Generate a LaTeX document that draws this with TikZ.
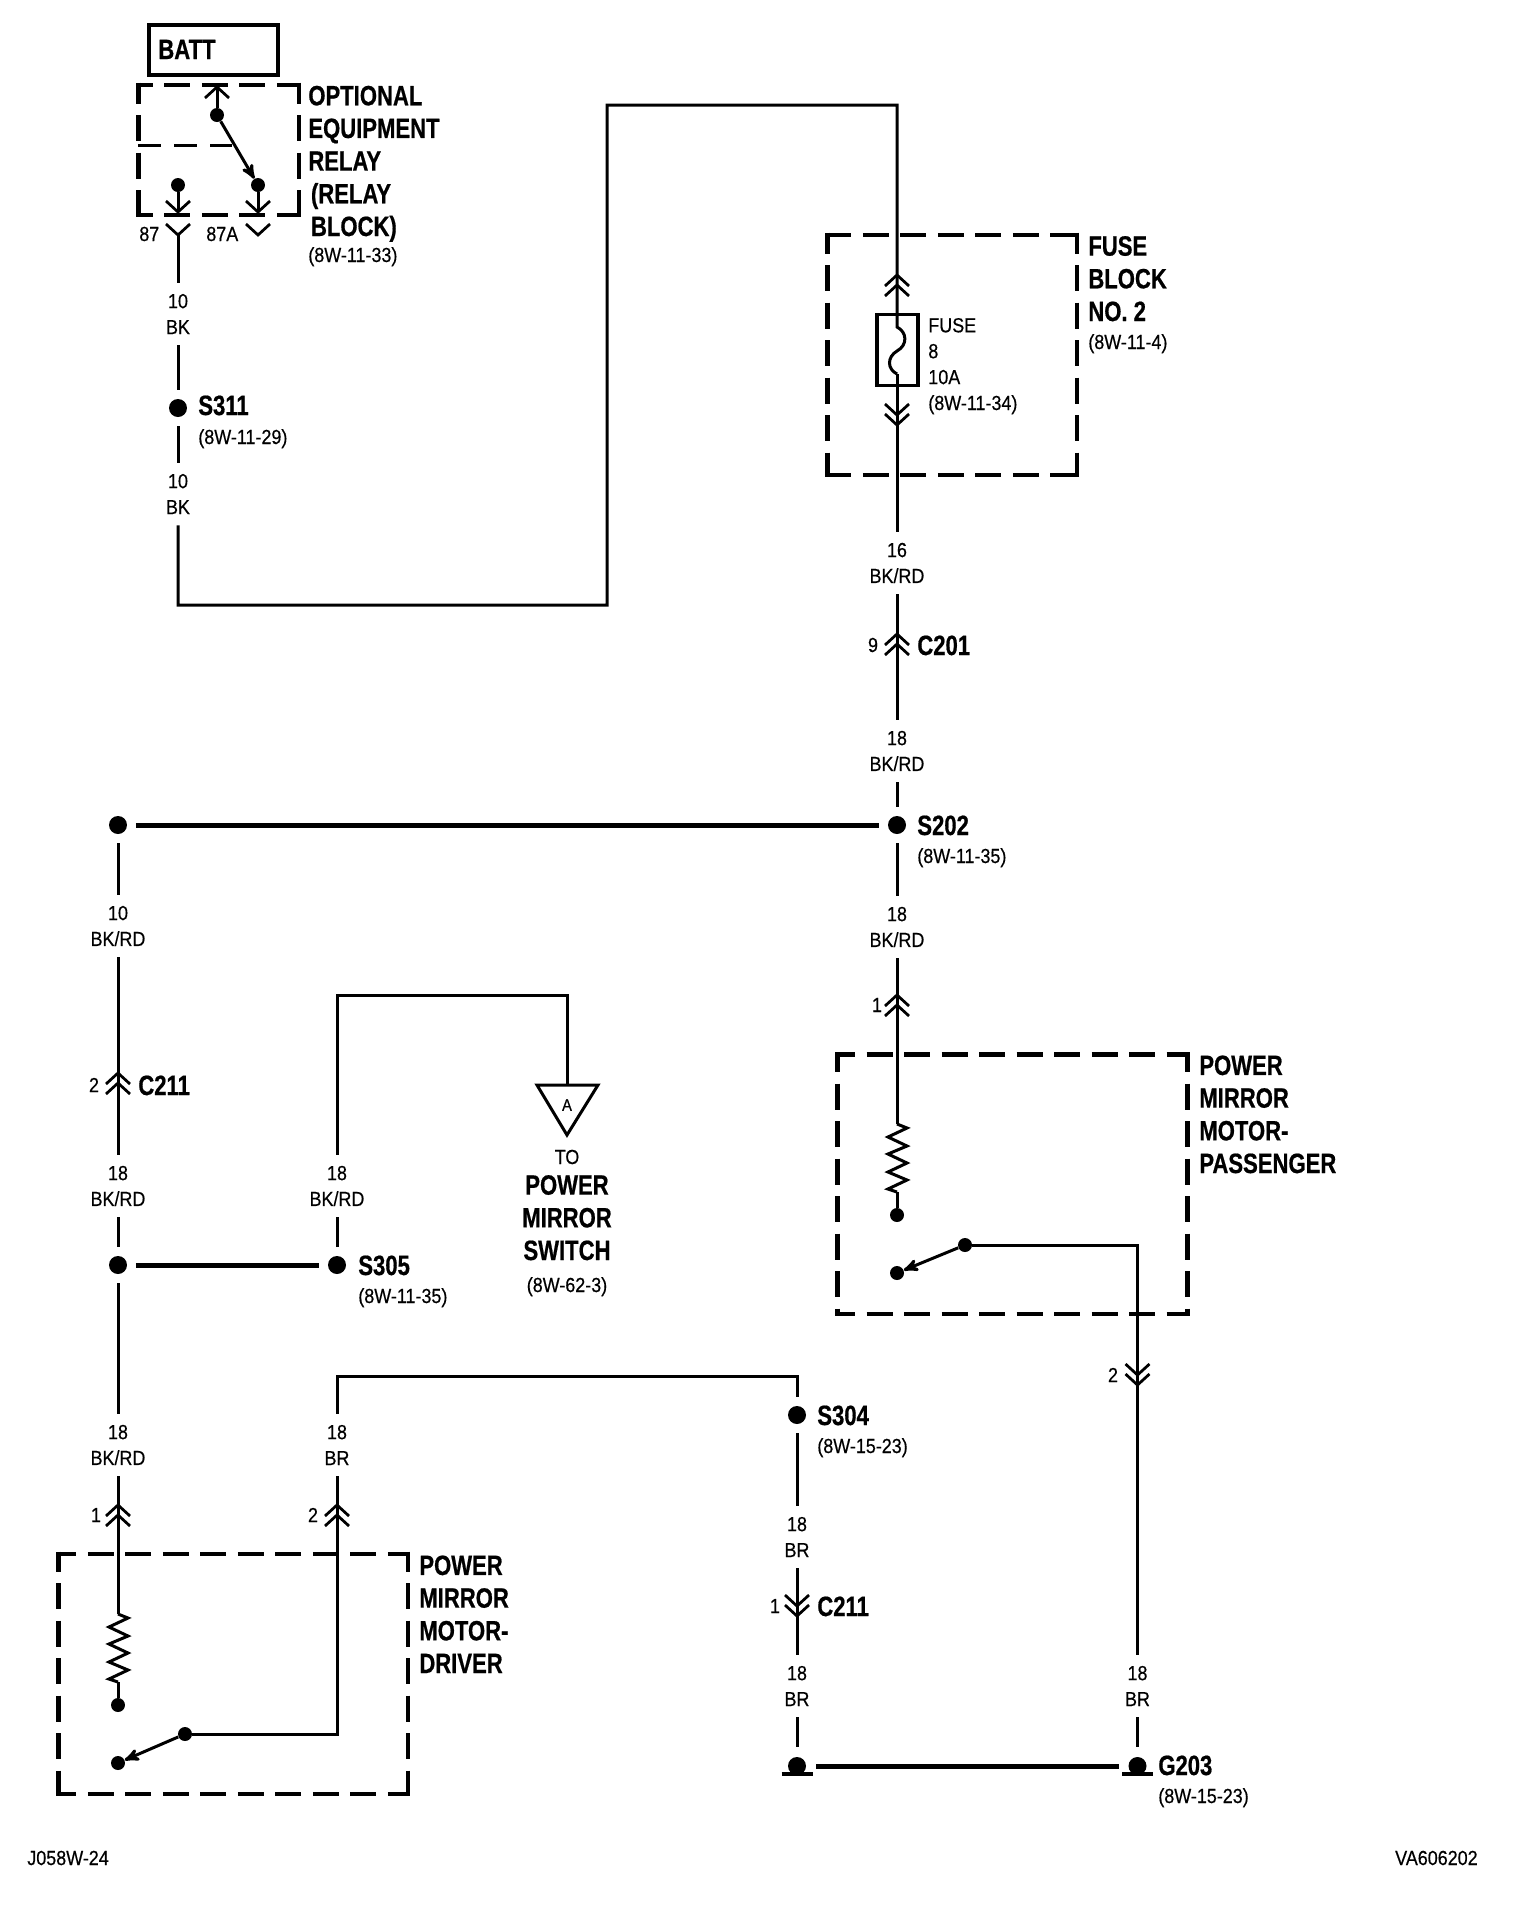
\documentclass[tikz,border=0pt]{standalone}
\usepackage{fontspec}
\usepackage{tikz}
\usetikzlibrary{arrows, positioning, calc}
\setmainfont[FakeStretch=0.88,FakeBold=0.4]{Liberation Sans}
\newfontfamily\titlefont[FakeStretch=0.79,FakeBold=0.6]{Liberation Sans}
\tikzset{
	upconn/.pic={\draw[conn line] (-12,11) -- (0,0) -- (12,11) (-12,21) -- (0,10) -- (12,21);},
	downconn/.pic={\draw[conn line] (-12,-21) -- (0,-10) -- (12,-21) (-12,-11) -- (0,0) -- (12,-11);},
	singleup/.pic={\draw[conn line] (-12,11) -- (0,0) -- (12,11);},
	singledown/.pic={\draw[conn line] (-12,-11) -- (0,0) -- (12,-11);},
	resistor/.pic={\draw[wire] (0,0) -- (10,4) -- (-9,13) -- (10,22) -- (-9,30) -- (10,39) -- (-9,48) -- (10,56) -- (-9,65) -- (0,68);},
	groundbar/.pic={\draw[line width=.08cm] (-15.5,8) -- (15.5,8);},
	wire/.style={line width=.06cm},
	conn line/.style={line width=.055cm},
	bus/.style={line width=.1cm},
	block line/.style={line width=.094cm,dash pattern=on .52cm off .23cm},
	splice node/.style={circle,fill=black,inner sep=0pt,minimum size=.36cm,outer sep=.18cm},
	pin node/.style={circle,fill=black,inner sep=0pt,minimum size=.28cm},
	ground node/.style={circle,fill=black,inner sep=0pt,minimum size=.36cm,outer sep=.2cm},
	wire label/.style={align=center,inner sep=0pt,minimum height=1.24cm,font=\fontsize{11.6}{14.74}\selectfont},
	title label/.style={align=left,anchor=base west,inner sep=0pt,font=\titlefont\bfseries\fontsize{15.9}{18.6}\selectfont},
	ref label/.style={anchor=base west,inner sep=0pt,font=\fontsize{11.6}{14.74}\selectfont},
	pin label/.style={inner sep=0pt,font=\fontsize{11.6}{14.74}\selectfont}
}
\newcommand{\blockbox}[6]{
	\draw[block line,dash phase=#5cm] ({#1-2.3},#2) -- ({#3+2.3},#2);
	\draw[block line,dash phase=#5cm] ({#1-2.3},#4) -- ({#3+2.3},#4);
	\draw[block line,dash phase=#6cm] (#1,{#2-2.3}) -- (#1,{#4+2.3});
	\draw[block line,dash phase=#6cm] (#3,{#2-2.3}) -- (#3,{#4+2.3});
}
\begin{document}
\begin{tikzpicture}[x=.02cm,y=-.02cm,>=stealth']
	\useasboundingbox (0,0) rectangle (1520,1908);
	
	\node[draw,line width=.07cm,minimum width=2.58cm,minimum height=1cm,inner sep=0pt] (battbox) at (213.5,50) {};
	\node[title label] (batt) at (158,59) {BATT};
	\blockbox{138.3}{85}{299}{215}{.18}{.1}
	\draw[line width=.06cm,dash pattern=on .46cm off .26cm] (138.3,145) -- (232,145);
	\node[title label] (relaylabel) at (308,236) {OPTIONAL\\EQUIPMENT\\RELAY\\\hspace*{1.5pt}(RELAY\\\hspace*{1.5pt}BLOCK)};
	\node[ref label] (relayref) at (308,262) {(8W-11-33)};
	
	\node[pin node] (relaycom) at (217,115) {};
	\node[pin node] (relay87) at (178,185) {};
	\node[pin node] (relay87a) at (258,185) {};
	\coordinate (relaytop) at (217,87);
	\coordinate (relay87in) at (178,212);
	\coordinate (relay87ain) at (258,212);
	\coordinate (relay87out) at (178,235);
	\coordinate (relay87aout) at (258,235);
	\pic at (relaytop) {singleup};
	\pic at (relay87in) {singledown};
	\pic at (relay87ain) {singledown};
	\pic at (relay87out) {singledown};
	\pic at (relay87aout) {singledown};
	\draw[wire] (relaytop) -- (relaycom);
	\draw[wire] (relay87) -- (relay87in);
	\draw[wire] (relay87a) -- (relay87ain);
	\draw[wire,->] (relaycom) -- (relay87a);
	\node[pin label,anchor=base west] (pin87) at (139,241) {87};
	\node[pin label,anchor=base west] (pin87a) at (206,241) {87A};
	
	\node[wire label] (wa) at (178,314) {10\\BK};
	\node[splice node] (s311) at (178,408) {};
	\node[title label] (s311label) at (198,415) {S311};
	\node[ref label] (s311ref) at (198,444) {(8W-11-29)};
	\node[wire label] (wb) at (178,494) {10\\BK};
	\coordinate (wc) at (178,605);
	\coordinate (wd) at (607,605);
	\coordinate (we) at (607,105);
	\coordinate (wf) at (897,105);
	\coordinate (fuseup) at (897,275);
	\coordinate (fusein) at (897,327);
	\coordinate (fusemid) at (897,351);
	\coordinate (fuseout) at (897,374);
	\coordinate (fusedown) at (897,425);
	\path[wire] (relay87out) edge (wa) (wa) edge (s311) (s311) edge (wb);
	\draw[wire] (wb) -- (wc) -- (wd) -- (we) -- (wf) -- (fusein)
		.. controls +(10,5) and +(11,-6) .. (fusemid)
		.. controls +(-10,6) and +(-10,-5) .. (fuseout);
	\pic at (fuseup) {upconn};
	\pic at (fusedown) {downconn};
	\node[draw,line width=.065cm,minimum width=.82cm,minimum height=1.42cm,inner sep=0pt] (fusebox) at (897.5,350) {};
	\node[ref label,align=left] (fuselabel) at (928,410) {FUSE\\8\\10A\\(8W-11-34)};
	\blockbox{827.7}{235}{1077}{475}{0}{.1}
	\node[title label] (fuseblock) at (1088,321) {FUSE\\BLOCK\\NO. 2};
	\node[ref label] (fuseref) at (1088,349) {(8W-11-4)};
	
	\node[wire label] (wg) at (897,563) {16\\BK/RD};
	\coordinate (c201) at (897,634);
	\pic at (c201) {upconn};
	\node[pin label] (pin9) at (873,645) {9};
	\node[title label] (c201label) at (917,655) {C201};
	\node[wire label] (wh) at (897,751) {18\\BK/RD};
	\node[splice node] (s202) at (897,825) {};
	\node[title label] (s202label) at (917,835) {S202};
	\node[ref label] (s202ref) at (917,863) {(8W-11-35)};
	\node[splice node] (s202left) at (118,825) {};
	\path[wire] (fuseout) edge (wg) (wg) edge (c201) (c201) edge (wh) (wh) edge (s202);
	\draw[bus] (s202left) -- (s202);
	
	\node[wire label] (wi) at (118,926) {10\\BK/RD};
	\coordinate (c211) at (118,1073);
	\pic at (c211) {upconn};
	\node[pin label] (pin2) at (94,1085) {2};
	\node[title label] (c211label) at (138,1095) {C211};
	\node[wire label] (wj) at (118,1186) {18\\BK/RD};
	\node[splice node] (s305left) at (118,1265) {};
	\node[splice node] (s305) at (337,1265) {};
	\node[title label] (s305label) at (358,1275) {S305};
	\node[ref label] (s305ref) at (358,1303) {(8W-11-35)};
	\node[wire label] (wk) at (337,1186) {18\\BK/RD};
	\path[wire] (s202left) edge (wi) (wi) edge (c211) (c211) edge (wj) (wj) edge (s305left);
	\path[wire] (s305) edge (wk);
	\draw[bus] (s305left) -- (s305);
	
	\coordinate (wl) at (337,995.5);
	\coordinate (wm) at (567,995.5);
	\coordinate (tritop) at (567,1085);
	\coordinate (trileft) at (537,1085);
	\coordinate (triright) at (598,1085);
	\coordinate (tribottom) at (567,1135);
	\draw[wire] (wk) -- (wl) -- (wm) -- (tritop);
	\draw[wire] (trileft) -- (triright) -- (tribottom) -- cycle;
	\node[inner sep=0pt,font=\fontsize{9.5}{11}\selectfont] (tria) at (567,1105) {A};
	\node[pin label,anchor=base] (tolabel) at (567,1164) {TO};
	\node[title label,align=center,anchor=base] (switchlabel) at (567,1260) {POWER\\MIRROR\\SWITCH};
	\node[ref label,anchor=base] (switchref) at (567,1292) {(8W-62-3)};
	
	\node[wire label] (wn) at (118,1445) {18\\BK/RD};
	\coordinate (driverin) at (118,1505);
	\coordinate (driverres) at (118,1614);
	\coordinate (driverresend) at (118,1682);
	\pic at (driverin) {upconn};
	\pic at (driverres) {resistor};
	\node[pin node] (driverdot) at (118,1705) {};
	\node[pin node] (driversw) at (185,1734) {};
	\node[pin node] (drivercon) at (118,1763) {};
	\node[pin label] (pin1a) at (96,1515) {1};
	\path[wire] (s305left) edge (wn) (wn) edge (driverin) (driverin) edge (driverres) (driverresend) edge (driverdot);
	\draw[wire,->] (driversw) -- (drivercon);
	\blockbox{58.7}{1554}{408}{1794}{.12}{.12}
	\node[title label] (driverlabel) at (419,1673) {POWER\\MIRROR\\MOTOR-\\DRIVER};
	
	\coordinate (wo) at (337,1734);
	\coordinate (driverout) at (337,1505);
	\pic at (driverout) {upconn};
	\node[pin label] (pin2a) at (313,1515) {2};
	\node[wire label] (wp) at (337,1445) {18\\BR};
	\coordinate (wq) at (337,1376);
	\coordinate (wr) at (797,1376);
	\node[splice node] (s304) at (797,1415) {};
	\node[title label] (s304label) at (817,1425) {S304};
	\node[ref label] (s304ref) at (817,1453) {(8W-15-23)};
	\draw[wire] (driversw) -- (wo) -- (wp) -- (wq) -- (wr) -- (s304);
	
	\node[wire label] (ws) at (797,1537) {18\\BR};
	\coordinate (c211b) at (797,1616);
	\pic at (c211b) {downconn};
	\node[pin label] (pin1b) at (775,1606) {1};
	\node[title label] (c211blabel) at (817,1616) {C211};
	\node[wire label] (wt) at (797,1686) {18\\BR};
	\node[ground node] (gndleft) at (797,1766) {};
	\pic at (gndleft) {groundbar};
	\path[wire] (s304) edge (ws) (ws) edge (c211b) (c211b) edge (wt) (wt) edge (gndleft);
	
	\coordinate (passin) at (897,995);
	\coordinate (passres) at (897,1124);
	\coordinate (passresend) at (897,1192);
	\pic at (passin) {upconn};
	\pic at (passres) {resistor};
	\node[wire label] (wu) at (897,927) {18\\BK/RD};
	\node[pin label] (pin1c) at (877,1005) {1};
	\node[pin node] (passdot) at (897,1215) {};
	\node[pin node] (passsw) at (965,1245) {};
	\node[pin node] (passcon) at (897,1273) {};
	\path[wire] (s202) edge (wu) (wu) edge (passin) (passin) edge (passres) (passresend) edge (passdot);
	\draw[wire,->] (passsw) -- (passcon);
	\blockbox{837.5}{1054.5}{1187.7}{1314}{.12}{.12}
	\node[title label] (passlabel) at (1199,1173) {POWER\\MIRROR\\MOTOR-\\PASSENGER};
	
	\coordinate (wv) at (1137.5,1245);
	\coordinate (passout) at (1137.5,1385);
	\pic at (passout) {downconn};
	\node[pin label] (pin2b) at (1113,1375) {2};
	\node[wire label] (ww) at (1137.5,1686) {18\\BR};
	\node[ground node] (gndright) at (1137.5,1766) {};
	\pic at (gndright) {groundbar};
	\node[title label] (g203label) at (1158,1775) {G203};
	\node[ref label] (g203ref) at (1158,1803) {(8W-15-23)};
	\draw[wire] (passsw) -- (wv) -- (ww) -- (gndright);
	\draw[bus] (gndleft) -- (gndright);
	
	\node[ref label] (codeleft) at (27,1865) {J058W-24};
	\node[ref label,anchor=base east] (coderight) at (1478,1865) {VA606202};
\end{tikzpicture}
\end{document}
